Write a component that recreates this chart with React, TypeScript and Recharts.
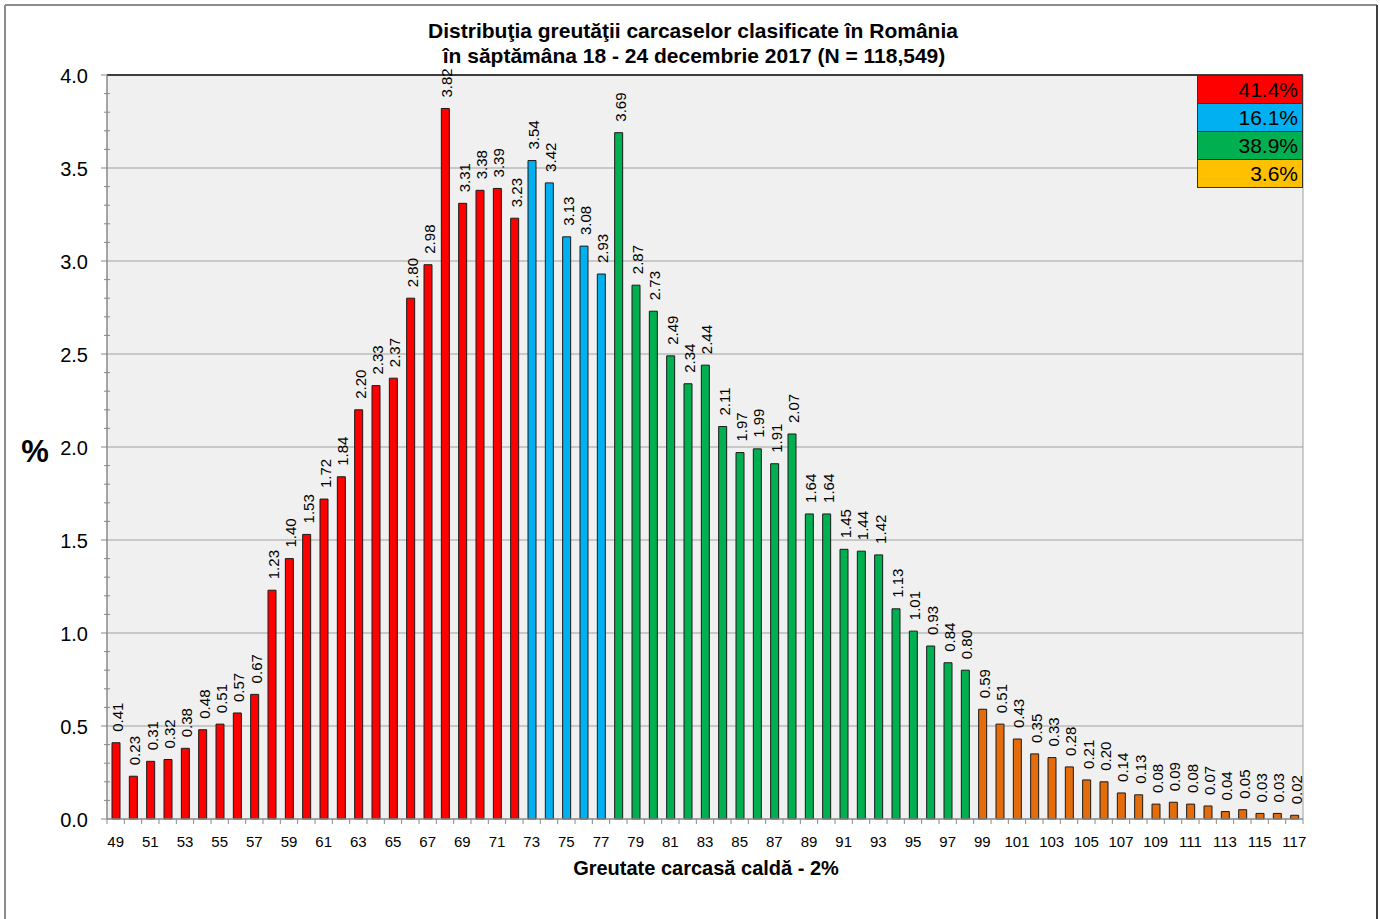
import React from 'react';
import { BarChart, Bar, XAxis, YAxis, CartesianGrid, Cell, LabelList, ReferenceLine } from 'recharts';

const WEIGHTS = [
  49, 50, 51, 52, 53, 54, 55, 56, 57, 58, 59, 60, 61, 62, 63, 64, 65, 66, 67, 68, 69, 70, 71, 72,
  73, 74, 75, 76, 77,
  78, 79, 80, 81, 82, 83, 84, 85, 86, 87, 88, 89, 90, 91, 92, 93, 94, 95, 96, 97, 98,
  99, 100, 101, 102, 103, 104, 105, 106, 107, 108, 109, 110, 111, 112, 113, 114, 115, 116, 117,
];

const PERCENTS = [
  0.41, 0.23, 0.31, 0.32, 0.38, 0.48, 0.51, 0.57, 0.67, 1.23, 1.40, 1.53, 1.72, 1.84, 2.20, 2.33, 2.37, 2.80, 2.98, 3.82, 3.31, 3.38, 3.39, 3.23,
  3.54, 3.42, 3.13, 3.08, 2.93,
  3.69, 2.87, 2.73, 2.49, 2.34, 2.44, 2.11, 1.97, 1.99, 1.91, 2.07, 1.64, 1.64, 1.45, 1.44, 1.42, 1.13, 1.01, 0.93, 0.84, 0.80,
  0.59, 0.51, 0.43, 0.35, 0.33, 0.28, 0.21, 0.20, 0.14, 0.13, 0.08, 0.09, 0.08, 0.07, 0.04, 0.05, 0.03, 0.03, 0.02,
];

// last weight of each class group
const GROUP_LAST = [72, 77, 98, 117];
const GROUP_COLORS = ['#ff0000', '#00b0f0', '#00b050', '#e46c0a'];

const LEGEND_PCTS = ['41.4%', '16.1%', '38.9%', '3.6%'];
const LEGEND_COLORS = ['#ff0000', '#00b0f0', '#00b050', '#ffc000'];

const Y_MAJOR = [0, 0.5, 1.0, 1.5, 2.0, 2.5, 3.0, 3.5, 4.0];
const Y_GRID = [0.5, 1.0, 1.5, 2.0, 2.5, 3.0, 3.5];
const Y_MINOR = Array.from({ length: 41 }, (_, i) => i / 10);

const TITLE_1 = 'Distribuţia greutăţii carcaselor clasificate în România';
const TITLE_2 = 'în săptămâna 18 - 24 decembrie 2017 (N = 118,549)';
const X_TITLE = 'Greutate carcasă caldă - 2%';
const Y_TITLE = '%';

const FONT = '"Liberation Sans", Arial, sans-serif';
const W = 1380;
const H = 919;
const MARGIN = { top: 75, right: 77, bottom: 70, left: 0 };
const Y_AXIS_W = 107;
const X_AXIS_H = 30;
const PLOT_W = W - MARGIN.left - MARGIN.right - Y_AXIS_W;

const data = WEIGHTS.map((w, i) => ({ w, p: PERCENTS[i] }));

function colorFor(w: number) {
  for (let i = 0; i < GROUP_LAST.length; i++) if (w <= GROUP_LAST[i]) return GROUP_COLORS[i];
  return GROUP_COLORS[GROUP_COLORS.length - 1];
}

const YTick = (props: any) => {
  const { x, y, payload } = props;
  const v = payload.value as number;
  const major = Y_MAJOR.some((m) => Math.abs(m - v) < 1e-6);
  return (
    <g>
      {major ? (
        <line x1={x - 6} x2={x} y1={y} y2={y} stroke="#888" strokeWidth={1} />
      ) : (
        <line x1={x - 3} x2={x + 3} y1={y} y2={y} stroke="#888" strokeWidth={1} />
      )}
      {major && (
        <text x={x - 19} y={y + 8} textAnchor="end" fontSize={20} fontFamily={FONT} fill="#000">
          {v.toFixed(1)}
        </text>
      )}
    </g>
  );
};

const XTick = (props: any) => {
  const { x, y, payload, index } = props;
  const bw = PLOT_W / WEIGHTS.length;
  const v = payload.value as number;
  return (
    <g>
      <line x1={x - bw / 2} x2={x - bw / 2} y1={y} y2={y + 5} stroke="#888" strokeWidth={1} />
      {index === WEIGHTS.length - 1 && (
        <line x1={x + bw / 2} x2={x + bw / 2} y1={y} y2={y + 5} stroke="#888" strokeWidth={1} />
      )}
      {v % 2 === 1 && (
        <text x={x} y={y + 28} textAnchor="middle" fontSize={15} fontFamily={FONT} fill="#000">
          {v}
        </text>
      )}
    </g>
  );
};

const BarValueLabel = (props: any) => {
  const { x, y, width, value } = props;
  if (value == null) return null;
  const cx = Number(x) + Number(width) / 2;
  return (
    <text
      transform={`translate(${cx + 7},${Number(y) - 11}) rotate(-90)`}
      textAnchor="start"
      fontSize={15}
      fontFamily={FONT}
      fill="#000"
    >
      {Number(value).toFixed(2)}
    </text>
  );
};

export default function App() {
  return (
    <div style={{ position: 'absolute', left: 0, top: 0, width: W, height: H, overflow: 'hidden', background: '#fff' }}>
      <BarChart width={W} height={H} data={data} margin={MARGIN}>
        <CartesianGrid
          fill="#f0f0f0"
          stroke="#a0a0a0"
          strokeWidth={1}
          horizontalCoordinatesGenerator={(args: any) => {
            const { yAxis, offset } = args || {};
            if (yAxis && typeof yAxis.scale === 'function') return Y_GRID.map((v) => yAxis.scale(v));
            return Y_GRID.map((v) => offset.top + offset.height * (1 - v / 4));
          }}
          verticalCoordinatesGenerator={(args: any) => {
            const { offset } = args || {};
            return [offset.left + offset.width];
          }}
        />
        <XAxis
          dataKey="w"
          type="category"
          interval={0}
          height={X_AXIS_H}
          tickLine={false}
          tickSize={0}
          tickMargin={0}
          axisLine={{ stroke: '#888', strokeWidth: 1.5 }}
          tick={<XTick />}
        />
        <YAxis
          type="number"
          domain={[0, 4]}
          ticks={Y_MINOR}
          interval={0}
          width={Y_AXIS_W}
          tickLine={false}
          tickSize={0}
          tickMargin={0}
          axisLine={{ stroke: '#888', strokeWidth: 1.5 }}
          tick={<YTick />}
        />
        <ReferenceLine y={4} stroke="#000" strokeWidth={1.5} />
        <Bar dataKey="p" barSize={8} stroke="#1a1a1a" strokeWidth={1} isAnimationActive={false}>
          {data.map((d) => (
            <Cell key={d.w} fill={colorFor(d.w)} />
          ))}
          <LabelList dataKey="p" content={<BarValueLabel />} />
        </Bar>
      </BarChart>
      <svg
        width={W}
        height={H}
        style={{ position: 'absolute', left: 0, top: 0, pointerEvents: 'none' }}
        fontFamily={FONT}
      >
        <line x1={5} y1={5} x2={1377} y2={5} stroke="#8c8c8c" strokeWidth={2} />
        <line x1={5} y1={5} x2={5} y2={H} stroke="#8c8c8c" strokeWidth={2} />
        <line x1={1377} y1={5} x2={1377} y2={H} stroke="#404040" strokeWidth={2} />
        <text x={693} y={38} textAnchor="middle" fontSize={21} fontWeight="bold" fill="#000">
          {TITLE_1}
        </text>
        <text x={694} y={63} textAnchor="middle" fontSize={21} fontWeight="bold" fill="#000">
          {TITLE_2}
        </text>
        <text x={706} y={875} textAnchor="middle" fontSize={20} fontWeight="bold" fill="#000">
          {X_TITLE}
        </text>
        <text x={35} y={462} textAnchor="middle" fontSize={31} fontWeight="bold" fill="#000">
          {Y_TITLE}
        </text>
        {LEGEND_PCTS.map((t, i) => (
          <g key={t}>
            <rect x={1197.5} y={75.5 + i * 28} width={105} height={28} fill={LEGEND_COLORS[i]} stroke="#333" strokeWidth={1} />
            <text x={1298} y={75.5 + i * 28 + 21} textAnchor="end" fontSize={21} fill="#000">
              {t}
            </text>
          </g>
        ))}
      </svg>
    </div>
  );
}
